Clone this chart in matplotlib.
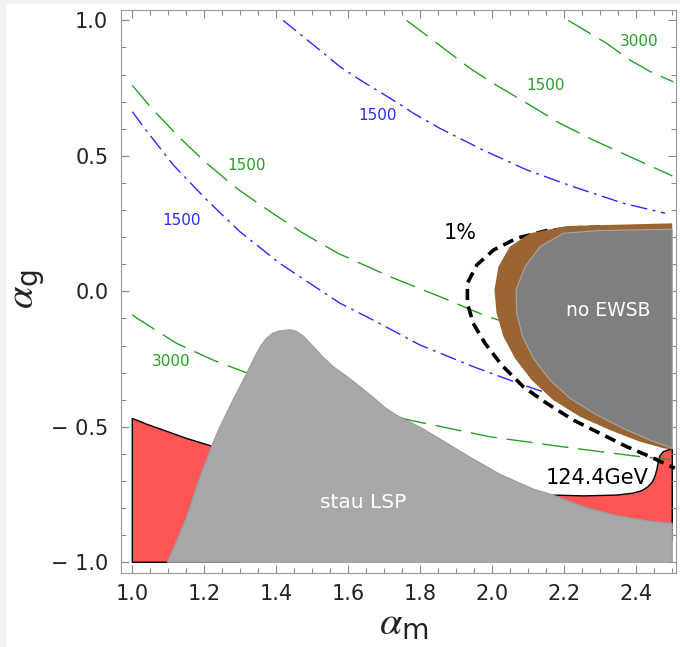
import matplotlib
matplotlib.use("Agg")
import matplotlib.pyplot as plt
from matplotlib.patches import Polygon, Rectangle

plt.rcParams['font.family'] = ['DejaVu Sans']
plt.rcParams['mathtext.fontset'] = 'custom'
plt.rcParams['mathtext.rm'] = 'DejaVu Sans'
plt.rcParams['mathtext.it'] = 'STIXGeneral:italic'

# --- regions (alpha_m, alpha_g) ---
red_left_x = [1.0, 1.0, 1.043, 1.086, 1.151, 1.22, 1.30, 1.30]
red_left_y = [-1.0, -0.469, -0.492, -0.512, -0.543, -0.571, -0.60, -1.0]

red_right_x = [2.169, 2.253, 2.346, 2.39, 2.415, 2.432, 2.445, 2.452, 2.457, 2.461, 2.466,
               2.475, 2.49, 2.5, 2.5, 2.169]
red_right_y = [-0.752, -0.755, -0.752, -0.745, -0.736, -0.722, -0.703, -0.682, -0.659, -0.632,
               -0.607, -0.592, -0.585, -0.583, -0.92, -0.92]

stau_x = [1.097, 1.125, 1.151, 1.17, 1.188, 1.205, 1.22, 1.24, 1.262, 1.28, 1.299, 1.315,
          1.327, 1.34, 1.355, 1.373, 1.39, 1.41, 1.438, 1.455, 1.475, 1.503, 1.53, 1.558,
          1.60, 1.642, 1.675, 1.705, 1.735, 1.765, 1.80, 1.855, 1.929, 2.021, 2.114,
          2.174, 2.253, 2.346, 2.438, 2.5, 2.5]
stau_y = [-1.0, -0.915, -0.832, -0.755, -0.684, -0.626, -0.573, -0.51, -0.45, -0.40, -0.352,
          -0.31, -0.278, -0.243, -0.205, -0.173, -0.155, -0.146, -0.142, -0.147, -0.165,
          -0.204, -0.243, -0.278, -0.318, -0.362, -0.398, -0.432, -0.458, -0.478, -0.502,
          -0.545, -0.605, -0.675, -0.730, -0.754, -0.795, -0.828, -0.848, -0.856, -1.0]

brown_x = [2.5, 2.207, 2.105, 2.049, 2.017, 2.006, 2.012, 2.031, 2.063, 2.109, 2.169,
           2.244, 2.327, 2.41, 2.475, 2.5]
brown_y = [0.251, 0.241, 0.214, 0.165, 0.091, 0.005, -0.081, -0.167, -0.247, -0.327, -0.401,
           -0.463, -0.512, -0.555, -0.579, -0.585]

noewsb_x = [2.5, 2.29, 2.197, 2.133, 2.091, 2.066, 2.068, 2.084, 2.114, 2.16, 2.216,
            2.29, 2.364, 2.438, 2.5]
noewsb_y = [0.229, 0.224, 0.214, 0.165, 0.091, 0.005, -0.081, -0.167, -0.247, -0.327, -0.395,
            -0.456, -0.506, -0.549, -0.579]

# --- contours ---
fine_x = [2.30, 2.244, 2.151, 2.068, 2.003, 1.957, 1.931, 1.931, 1.947, 1.98, 2.026, 2.086,
          2.151, 2.225, 2.299, 2.373, 2.438, 2.507]
fine_y = [0.237, 0.235, 0.224, 0.196, 0.152, 0.097, 0.03, -0.044, -0.118, -0.192, -0.272, -0.352,
          -0.413, -0.475, -0.524, -0.573, -0.61, -0.653]

green_a_x = [2.211, 2.318, 2.383, 2.44, 2.503]
green_a_y = [1.0, 0.915, 0.853, 0.81, 0.773]
green_b_x = [1.762, 1.822, 1.938, 2.003, 2.096, 2.188, 2.281, 2.392, 2.5]
green_b_y = [1.0, 0.94, 0.823, 0.767, 0.694, 0.62, 0.558, 0.491, 0.426]
green_c_x = [1.0, 1.054, 1.133, 1.207, 1.29, 1.383, 1.475, 1.572, 1.716, 1.855, 1.975, 2.031, 2.2]
green_c_y = [0.76, 0.675, 0.565, 0.472, 0.38, 0.294, 0.214, 0.14, 0.054, -0.02, -0.087, -0.112, -0.18]
green_d_x = [1.0, 1.021, 1.123, 1.225, 1.322, 1.45, 1.6, 1.776, 1.994, 2.225, 2.41, 2.5]
green_d_y = [-0.087, -0.106, -0.192, -0.254, -0.303, -0.36, -0.42, -0.477, -0.537, -0.579, -0.61, -0.622]

blue_a_x = [1.419, 1.521, 1.577, 1.633, 1.739, 1.781, 1.855, 1.975, 2.096, 2.225, 2.364, 2.48]
blue_a_y = [1.0, 0.89, 0.829, 0.78, 0.694, 0.657, 0.601, 0.521, 0.448, 0.386, 0.325, 0.288]
blue_b_x = [1.0, 1.031, 1.114, 1.207, 1.299, 1.41, 1.521, 1.577, 1.669, 1.799, 1.947, 2.086, 2.253]
blue_b_y = [0.663, 0.607, 0.466, 0.337, 0.22, 0.103, 0.005, -0.044, -0.106, -0.198, -0.278, -0.346, -0.42]

green_labels = [(1.318, 0.466, '1500'), (2.148, 0.761, '1500'), (2.408, 0.921, '3000'),
                (1.109, -0.26, '3000')]
blue_labels = [(1.137, 0.263, '1500'), (1.681, 0.65, '1500')]

x_ticks = [1.0, 1.2, 1.4, 1.6, 1.8, 2.0, 2.2, 2.4]
x_ticklabels = ['1.0', '1.2', '1.4', '1.6', '1.8', '2.0', '2.2', '2.4']
y_ticks = [-1.0, -0.5, 0.0, 0.5, 1.0]
y_ticklabels = ['\u2212 1.0', '\u2212 0.5', '0.0', '0.5', '1.0']

GREEN = '#25a025'
BLUE = '#2a2aff'

fig = plt.figure(figsize=(6.8, 6.47), dpi=100)
fig.patches.append(Rectangle((0, 0), 5 / 680, 1, transform=fig.transFigure,
                             color='#f2f2f2', zorder=0))
fig.patches.append(Rectangle((0, 1 - 3 / 647), 1, 3 / 647, transform=fig.transFigure,
                             color='#f2f2f2', zorder=0))
ax = fig.add_axes([0.1776, 0.1142, 0.8163, 0.8711])

ax.add_patch(Polygon(list(zip(red_left_x, red_left_y)), closed=True, facecolor='#ff5555',
                     edgecolor='black', lw=1.0, zorder=1))
ax.add_patch(Polygon(list(zip(red_right_x, red_right_y)), closed=True, facecolor='#ff5555',
                     edgecolor='black', lw=1.0, zorder=1))

for xs, ys in [(green_a_x, green_a_y), (green_b_x, green_b_y),
               (green_c_x, green_c_y), (green_d_x, green_d_y)]:
    ax.plot(xs, ys, color=GREEN, lw=1.0, dashes=(19, 7), zorder=2)
for xs, ys in [(blue_a_x, blue_a_y), (blue_b_x, blue_b_y)]:
    ax.plot(xs, ys, color=BLUE, lw=1.0, dashes=(12, 4, 2, 4), zorder=2)

ax.add_patch(Polygon(list(zip(stau_x, stau_y)), closed=True, facecolor='#a8a8a8',
                     edgecolor='#9a9a9a', lw=0.8, zorder=3))

ax.plot(fine_x, fine_y, color='black', lw=2.6, dashes=(3.1, 1.8), zorder=4)

ax.add_patch(Polygon(list(zip(brown_x, brown_y)), closed=True, facecolor='#9a6532',
                     edgecolor='none', zorder=5))
ax.add_patch(Polygon(list(zip(noewsb_x, noewsb_y)), closed=True, facecolor='#7f7f7f',
                     edgecolor='#a8a8a8', lw=0.8, zorder=6))

for x, y, t in green_labels:
    ax.text(x, y, t, color=GREEN, fontsize=11, ha='center', va='center', zorder=7)
for x, y, t in blue_labels:
    ax.text(x, y, t, color=BLUE, fontsize=11, ha='center', va='center', zorder=7)

ax.text(1.91, 0.214, '1%', fontsize=15, ha='center', va='center', zorder=7)
ax.text(2.29, -0.69, '124.4GeV', fontsize=15, ha='center', va='center', zorder=7)
ax.text(2.322, -0.069, 'no EWSB', fontsize=13.5, color='white', ha='center', va='center', zorder=7)
ax.text(1.642, -0.78, 'stau LSP', fontsize=14.5, color='white', ha='center', va='center', zorder=7)

ax.set_xlim(0.968, 2.51)
ax.set_ylim(-1.04, 1.04)
ax.set_xticks(x_ticks)
ax.set_xticklabels(x_ticklabels)
ax.set_yticks(y_ticks)
ax.set_yticklabels(y_ticklabels)
ax.set_xticks([1.0 + 0.05 * i for i in range(31)], minor=True)
ax.set_yticks([-1.0 + 0.1 * i for i in range(21)], minor=True)
ax.tick_params(which='both', direction='in', top=True, right=True, color='#888888',
               width=0.8)
ax.tick_params(which='major', length=6)
ax.tick_params(which='minor', length=3.5)
ax.tick_params(axis='x', which='major', labelsize=15, pad=8, labelcolor='#222222')
ax.tick_params(axis='y', which='major', labelsize=15, pad=9, labelcolor='#222222')
for s in ax.spines.values():
    s.set_color('#999999')
    s.set_linewidth(0.8)

fig.text(404 / 680, 1 - 624 / 647, r'$\alpha_\mathrm{m}$', fontsize=29,
         ha='center', va='center', color='#222222')
fig.text(27 / 680, 1 - 289 / 647, r'$\alpha_\mathrm{g}$', fontsize=29, rotation=90,
         ha='center', va='center', color='#222222')

fig.savefig('out.png', dpi=100)
